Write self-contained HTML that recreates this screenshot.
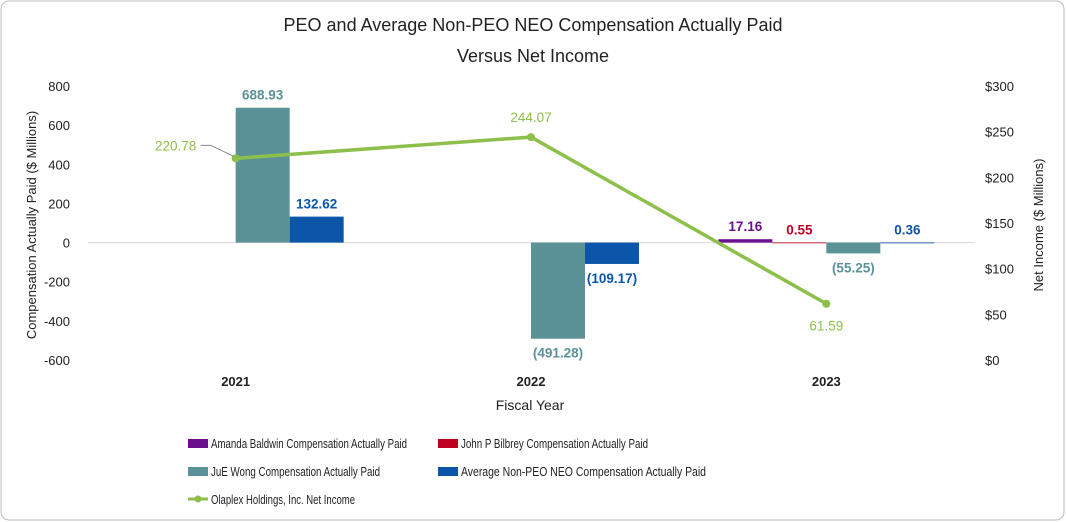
<!DOCTYPE html>
<html><head><meta charset="utf-8"><style>
body{margin:0;background:#fff;}
svg{display:block;font-family:"Liberation Sans",sans-serif;}
</style></head><body>
<svg id="chart" width="1066" height="522">
<rect x="1" y="1" width="1063" height="519" rx="8" fill="#fff" stroke="#bdbdbd"/>
<text x="533" y="31" text-anchor="middle" font-size="18" fill="#222">PEO and Average Non-PEO NEO Compensation Actually Paid</text>
<text x="533" y="62" text-anchor="middle" font-size="18" fill="#222">Versus Net Income</text>
<text transform="translate(36,225) rotate(-90)" text-anchor="middle" font-size="13" fill="#222">Compensation Actually Paid ($ Millions)</text>
<text transform="translate(1043,225) rotate(-90)" text-anchor="middle" font-size="13" fill="#222">Net Income ($ Millions)</text>
<text x="530" y="410" text-anchor="middle" font-size="14" fill="#222">Fiscal Year</text>
<g id="axes"></g><g id="bars"></g><g id="line"></g>
<g id="legend" font-size="12.5" fill="#222">
<rect x="188" y="439" width="20" height="9" fill="#6a0f8e"/>
<text x="211" y="448" textLength="196" lengthAdjust="spacingAndGlyphs">Amanda Baldwin Compensation Actually Paid</text>
<rect x="438" y="439" width="20" height="9" fill="#c00020"/>
<text x="461" y="448" textLength="187" lengthAdjust="spacingAndGlyphs">John P Bilbrey Compensation Actually Paid</text>
<rect x="188" y="467" width="20" height="9" fill="#5a9298"/>
<text x="211" y="476" textLength="169" lengthAdjust="spacingAndGlyphs">JuE Wong Compensation Actually Paid</text>
<rect x="438" y="467" width="20" height="9" fill="#0b56a8"/>
<text x="461" y="476" textLength="245" lengthAdjust="spacingAndGlyphs">Average Non-PEO NEO Compensation Actually Paid</text>
<line x1="188" y1="499" x2="208" y2="499" stroke="#8dc04b" stroke-width="3"/>
<circle cx="198" cy="499" r="3.5" fill="#8dc04b"/>
<text x="211" y="504" textLength="144" lengthAdjust="spacingAndGlyphs">Olaplex Holdings, Inc. Net Income</text>
</g>
</svg>
<script>
const years=["2021","2022","2023"];
const baldwin=[null,null,17.16];
const bilbrey=[null,null,0.55];
const wong=[688.93,-491.28,-55.25];
const nonPeo=[132.62,-109.17,0.36];
const netIncome=[220.78,244.07,61.59];
const leftTicks=[800,600,400,200,0,-200,-400,-600];
const rightTicks=[300,250,200,150,100,50,0];

const NS="http://www.w3.org/2000/svg";
const X0=88,X1=974,YT=86,YB=360;
const yL=v=>YT+(800-v)/1400*(YB-YT);
const yR=v=>YB-v/300*(YB-YT);
const band=(X1-X0)/years.length;
const xc=i=>X0+band*(i+0.5);
const bw=54;
function mk(tag,attrs,parent,txt){const e=document.createElementNS(NS,tag);for(const k in attrs)e.setAttribute(k,attrs[k]);if(txt!==undefined)e.textContent=txt;document.getElementById(parent).appendChild(e);return e;}
const fmt=v=>v<0?"("+Math.abs(v).toFixed(2)+")":v.toFixed(2);

const zl=mk('line',{x1:X0,x2:X1,y1:yL(0),y2:yL(0),stroke:'#d6d6d6','stroke-width':1},'axes');


leftTicks.forEach(t=>{const e=mk('text',{x:70,y:yL(t)+5,'text-anchor':'end','font-size':13,fill:'#222'},'axes',String(t));

});
rightTicks.forEach(t=>{const e=mk('text',{x:985,y:yR(t)+5,'font-size':13,fill:'#222'},'axes','$'+t);

});
years.forEach((y,i)=>{const e=mk('text',{x:xc(i),y:386,'text-anchor':'middle','font-size':13,'font-weight':'bold',fill:'#222'},'axes',y);

});

const series=[[baldwin,'#6a0f8e','baldwin'],[bilbrey,'#c00020','bilbrey'],[wong,'#5a9298','wong'],[nonPeo,'#0b56a8','non-peo']];
series.forEach(([arr,col,nm],s)=>{arr.forEach((v,i)=>{if(v===null)return;
const x=xc(i)+(s-2)*bw;const y0=yL(0),y1=yL(v);
const r=mk('rect',{x:x,y:Math.min(y0,y1),width:bw,height:Math.max(Math.abs(y1-y0),0.8),fill:col},'bars');


const ly=v>=0?y1-8:y1+19;
const t=mk('text',{x:x+bw/2,y:ly,'text-anchor':'middle','font-size':13.5,'font-weight':'bold',fill:col},'bars',fmt(v));

});});

const pts=netIncome.map((v,i)=>[xc(i),yR(v)]);
const pl=mk('polyline',{points:pts.map(p=>p.join(',')).join(' '),fill:'none',stroke:'#8dc04b','stroke-width':3.5},'line');


pts.forEach((p,i)=>{const c=mk('circle',{cx:p[0],cy:p[1],r:4,fill:'#8dc04b'},'line');


let lx=p[0],ly=p[1]-15,anc='middle';
if(i===0){lx=p[0]-60;ly=p[1]-8;mk('polyline',{points:(p[0]-2)+','+(p[1]-2)+' '+(p[0]-25)+','+(p[1]-13)+' '+(p[0]-35)+','+(p[1]-13),fill:'none',stroke:'#888','stroke-width':1},'line');}
if(i===2){ly=p[1]+27;}
const t=mk('text',{x:lx,y:ly,'text-anchor':anc,'font-size':13.5,fill:'#8dc04b'},'line',netIncome[i].toFixed(2));

});
</script>
</body></html>
